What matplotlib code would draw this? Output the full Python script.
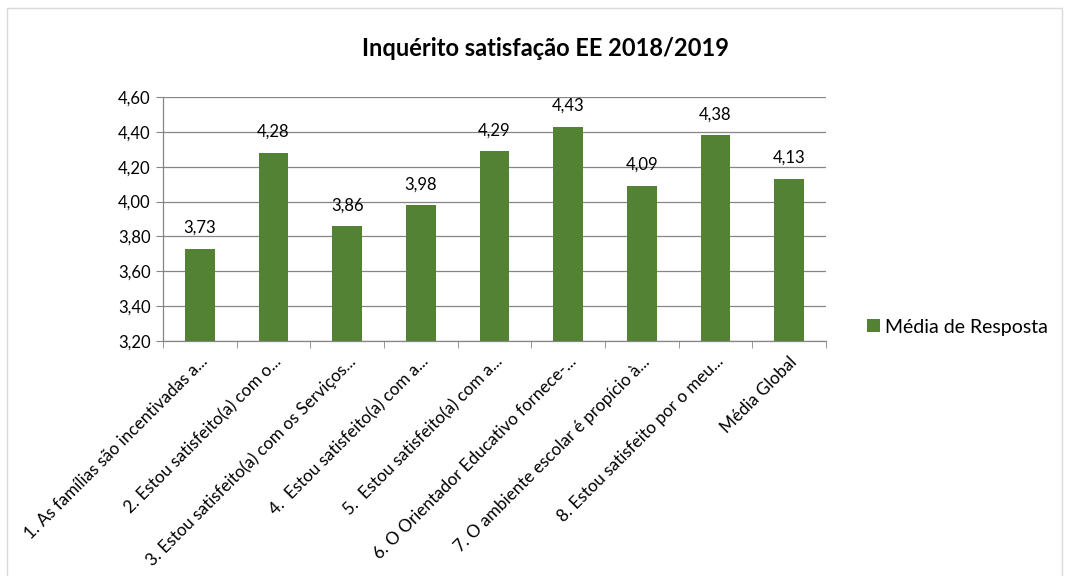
import matplotlib
matplotlib.use("Agg")
import matplotlib.pyplot as plt
from matplotlib.patches import Rectangle
from matplotlib.ticker import FixedLocator, FuncFormatter

categories = [
    "1. As famílias são incentivadas a...",
    "2. Estou satisfeito(a) com o...",
    "3. Estou satisfeito(a) com os Serviços...",
    "4.  Estou satisfeito(a) com a...",
    "5.  Estou satisfeito(a) com a...",
    "6. O Orientador Educativo fornece-...",
    "7. O ambiente escolar é propício à...",
    "8. Estou satisfeito por o meu...",
    "Média Global",
]
values = [3.73, 4.28, 3.86, 3.98, 4.29, 4.43, 4.09, 4.38, 4.13]
y_ticks = [3.20, 3.40, 3.60, 3.80, 4.00, 4.20, 4.40, 4.60]
title = "Inquérito satisfação EE 2018/2019"
series_name = "Média de Resposta"

BAR_COLOR = "#548235"
GRID_COLOR = "#868686"
TEXT_COLOR = "#000000"

plt.rcParams["font.family"] = ["Lato", "DejaVu Sans"]

fig = plt.figure(figsize=(10.66, 5.76), dpi=100)
fig.patch.set_facecolor("white")

# outer chart border
fig.add_artist(Rectangle((7 / 1066, -0.01), 1055 / 1066, 1 - 8 / 576 + 0.01,
                         transform=fig.transFigure, fill=False,
                         edgecolor="#d9d9d9", linewidth=1))

ax = fig.add_axes([163 / 1066, 1 - 341 / 576, 663 / 1066, 244 / 576])

x = list(range(len(values)))
bars = ax.bar(x, values, width=0.4, color=BAR_COLOR, zorder=3)

ax.set_xlim(-0.5, len(values) - 0.5)
ax.set_ylim(y_ticks[0], y_ticks[-1])
ax.set_yticks(y_ticks)
ax.yaxis.set_major_formatter(FuncFormatter(lambda v, p: f"{v:.2f}".replace(".", ",")))
ax.grid(axis="y", color=GRID_COLOR, linewidth=0.9, zorder=0)

ax.set_xticks(x)
ax.set_xticklabels(categories, rotation=45, ha="right", rotation_mode="anchor",
                   fontsize=12.3, color=TEXT_COLOR)
ax.xaxis.set_minor_locator(FixedLocator([i + 0.5 for i in range(-1, len(values))]))
ax.tick_params(axis="x", which="major", length=0, pad=9)
ax.tick_params(axis="x", which="minor", length=5, color=GRID_COLOR)
ax.tick_params(axis="y", length=5, color=GRID_COLOR, labelsize=12,
               labelcolor=TEXT_COLOR, pad=4)

for side in ("top", "right"):
    ax.spines[side].set_visible(False)
for side in ("left", "bottom"):
    ax.spines[side].set_color(GRID_COLOR)
    ax.spines[side].set_linewidth(0.9)

for b, v in zip(bars, values):
    ax.annotate(f"{v:.2f}".replace(".", ","), (b.get_x() + b.get_width() / 2, v),
                xytext=(0, 15), textcoords="offset points", ha="center",
                va="center", fontsize=12, color=TEXT_COLOR)

fig.text(545 / 1066, 1 - 48 / 576, title, ha="center", va="center",
         fontsize=17, fontweight="bold", color=TEXT_COLOR)

fig.legend([bars], [series_name], loc="center left",
           bbox_to_anchor=(867 / 1066, 1 - 327 / 576), frameon=False,
           borderpad=0, borderaxespad=0,
           handlelength=0.65, handleheight=0.65, handletextpad=0.3,
           fontsize=14)

fig.savefig("out.png", dpi=100, facecolor="white")
